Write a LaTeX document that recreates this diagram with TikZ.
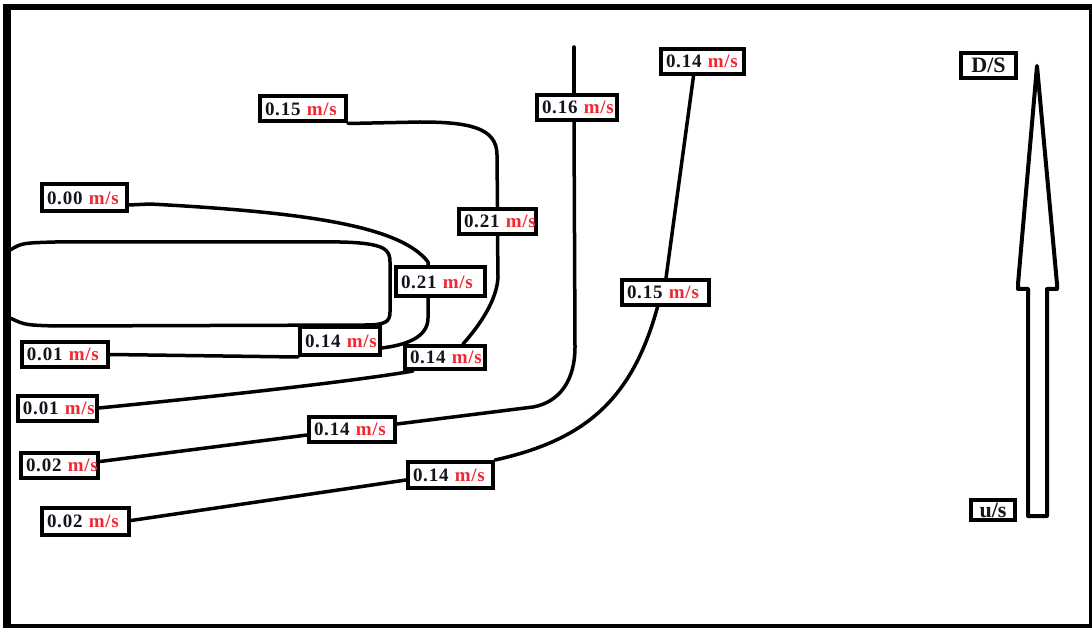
\documentclass[tikz,border=0pt]{standalone}
\usepackage{fontspec}
\setmainfont{Liberation Serif}
\newfontfamily\lblfont[LetterSpace=4]{Liberation Serif}
\usetikzlibrary{calc}
\definecolor{msred}{RGB}{240,40,50}
\definecolor{numcol}{RGB}{20,20,30}
\newcommand\mpsu{\textcolor{msred}{m/s}}
\newcommand\vel[1]{#1~\mpsu}
\hfuzz=20pt
\begin{document}
\begin{tikzpicture}[x=1pt,y=-1pt,
  lbl/.style={draw=black, line width=4pt, fill=white, inner xsep=5pt, inner ysep=0pt,
    minimum height=25pt, align=left,
    font=\lblfont\bfseries\fontsize{19}{22}\selectfont, text=numcol},
  tag/.style={draw=black, line width=4pt, fill=white, inner sep=0pt,
    font=\bfseries\fontsize{22}{24}\selectfont, text=numcol},
  contour/.style={line width=3.5pt, line cap=round, line join=round},
  bigarrow/.style={line width=4pt, line join=round}
]
\useasboundingbox (0,0) rectangle (1092,628);
\fill[black] (3,4) rectangle (1092,628);
\fill[white] (11,10) rectangle (1089,624);

% labels
\node[lbl, text width=76] (l015a) at (303,109) {\vel{0.15}};
\node[lbl, text width=70] (l016) at (577,107.5) {\vel{0.16}};
\node[lbl, text width=73] (l014t) at (702.5,61.5) {\vel{0.14}};
\node[tag, minimum width=55, minimum height=25] (lds) at (988.5,65.5) {D/S};
\node[lbl, text width=75, minimum height=27] (l000) at (84.5,198) {\vel{0.00}};
\node[lbl, text width=67] (l021a) at (497.5,221.5) {\vel{0.21}};
\node[lbl, text width=79, minimum height=29] (l021b) at (440.5,282) {\vel{0.21}};
\node[lbl, text width=77] (l015b) at (665.5,292.5) {\vel{0.15}};
\node[lbl, text width=70, minimum height=28] (l014a) at (340,341) {\vel{0.14}};
\node[lbl, text width=76] (l001a) at (65,354.5) {\vel{0.01}};
\node[lbl, text width=70, minimum height=23] (l014b) at (445,357.5) {\vel{0.14}};
\node[lbl, text width=69] (l001b) at (57.5,408) {\vel{0.01}};
\node[lbl, text width=76] (l014c) at (352,429) {\vel{0.14}};
\node[lbl, text width=67] (l002a) at (59.5,465.5) {\vel{0.02}};
\node[lbl, text width=75, minimum height=26] (l014d) at (450.5,475) {\vel{0.14}};
\node[lbl, text width=77, minimum height=27] (l002b) at (85.5,521.5) {\vel{0.02}};
\node[tag, minimum width=44, minimum height=20] (lus) at (993,510) {u/s};

% contour A (0.15 - 0.21 - 0.14 - 0.01)
\draw[contour] (l015a.south east) -- (420,122) .. controls (470,122) and (497,128) .. (497,155) -- (l021a.north);
\draw[contour] (l021a.south) -- (498,277) .. controls (497,300) and (480,325) .. ($(l014b.north)+(18,0)$);
\draw[contour] ($(l014b.south west)+(10,0)$) .. controls (385,376) and (300,388) .. (l001b.east);

% contour B (0.00 - 0.21 - 0.14 - 0.01)
\draw[contour] ($(l000.east)+(0,7)$) -- (150,204) .. controls (300,212) and (400,225) .. (428,262) -- ($(l021b.north)+(-12.5,0)$);
\draw[contour] ($(l021b.south)+(-12.5,0)$) -- (428,318) .. controls (428,338) and (405,345) .. ($(l014a.east)+(0,7)$);
\draw[contour] (l014a.south west) -- (l001a.east);

% closed oval
\draw[contour] (10,250) .. controls (22,243) .. (55,242) -- (340,242) .. controls (386,243) and (390,250) .. (390,262) -- (390,312) .. controls (390,322) and (385,325) .. (365,325) -- (55,326) .. controls (25,325) .. (10,318);

% contour C (0.16 - 0.14 - 0.02)
\coordinate (c16top) at (574,47);
\draw[contour] (c16top) -- (c16top |- l016.north);
\draw[contour] (c16top |- l016.south) -- (575,347) .. controls (575,380) and (560,402) .. (533,407) -- ($(l014c.east)+(0,-5)$);
\draw[contour] ($(l014c.west)+(0,6)$) -- ($(l002a.east)+(0,-4)$);

% contour D (0.14 - 0.15 - 0.14 - 0.02)
\draw[contour] ($(l014t.south)+(-9,0)$) -- ($(l015b.north)+(0.5,0)$);
\draw[contour] ($(l015b.south)+(-8,0)$) .. controls (632,400) and (585,440) .. (l014d.north east);
\draw[contour] ($(l014d.west)+(0,5)$) -- ($(l002b.east)+(0,-1)$);

% flow direction arrow
\draw[bigarrow] (1037,66) -- (1018,284) -- (1018,289) -- (1028,289) -- (1028,516) -- (1047,516) -- (1047,289) -- (1057,289) -- (1057,284) -- cycle;
\end{tikzpicture}
\end{document}
